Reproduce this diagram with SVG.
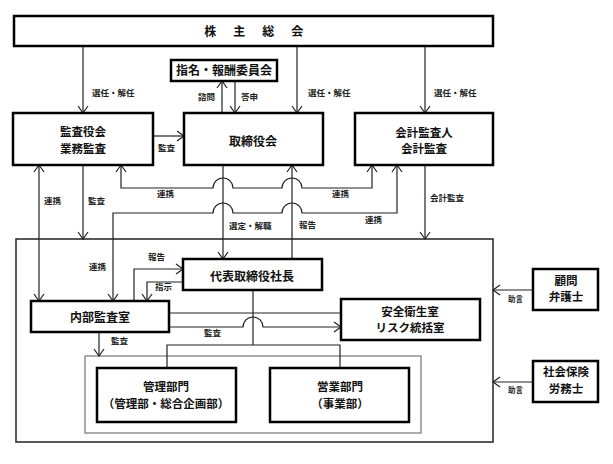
<svg xmlns="http://www.w3.org/2000/svg" width="613" height="464" viewBox="0 0 613 464">
<defs>
<marker id="ah" markerUnits="userSpaceOnUse" markerWidth="12" markerHeight="12" refX="8" refY="6" orient="auto-start-reverse">
<path d="M1,1 L8,6 L1,11" fill="none" stroke="#222" stroke-width="1.2"/>
</marker>
<style>
.box{fill:#fff;stroke:#000;stroke-width:2.5}
.frame{fill:none;stroke:#222;stroke-width:1.5}
.inner{fill:none;stroke:#777;stroke-width:1.2}
.c{fill:none;stroke:#222;stroke-width:1.2}
.a{marker-end:url(#ah)}
.b{marker-start:url(#ah);marker-end:url(#ah)}
.t{font-family:"Noto Sans CJK JP","Liberation Sans",sans-serif;font-size:12px;font-weight:700;text-anchor:middle;fill:#111}
.t2{font-size:11.5px}
.l{font-family:"Noto Sans CJK JP","Liberation Sans",sans-serif;font-size:8.5px;font-weight:700;fill:#222}
.s{font-size:7.5px}
</style>
</defs>
<rect width="613" height="464" fill="#fff"/>
<rect class="frame" x="16" y="239" width="477" height="203"/>
<rect class="inner" x="85" y="356" width="336" height="77"/>
<g id="connectors">
<path class="c a" d="M83,46 V113"/>
<path class="c a" d="M297,46 V113"/>
<path class="c a" d="M425,46 V113"/>
<path class="c a" d="M222,113 V81"/>
<path class="c a" d="M235,81 V113"/>
<path class="c a" d="M153,136 H184"/>
<path class="c b" d="M39,165 V301"/>
<path class="c a" d="M83,165 V239"/>
<path class="c b" d="M121,165 V188 H213 A10,10 0 0 1 233,188 H282 A10,10 0 0 1 302,188 H372 V165"/>
<path class="c b" d="M113,301 V213 H213 A10,10 0 0 1 233,213 H282 A10,10 0 0 1 302,213 H397 V165"/>
<path class="c a" d="M223,165 V259"/>
<path class="c a" d="M292,259 V165"/>
<path class="c a" d="M425,165 V239"/>
<path class="c a" d="M134,301 V269 H183"/>
<path class="c a" d="M183,282 H147 V301"/>
<path class="c a" d="M99,332 V356"/>
<path class="c" d="M169,313 H341"/>
<path class="c a" d="M169,327 H243 A10,10 0 0 1 263,327 H341"/>
<path class="c" d="M253,290 V345"/>
<path class="c" d="M167,368 V345 H340 V368"/>
<path class="c a" d="M533,290 H493"/>
<path class="c a" d="M533,382 H493"/>
</g>
<g id="labels">
<text class="l" x="92" y="96">選任・解任</text>
<text class="l" x="308" y="96">選任・解任</text>
<text class="l" x="434" y="96">選任・解任</text>
<text class="l" x="198" y="100">諮問</text>
<text class="l" x="241" y="100">答申</text>
<text class="l" x="158" y="151">監査</text>
<text class="l" x="44" y="204">連携</text>
<text class="l" x="88" y="204">監査</text>
<text class="l" x="157" y="197">連携</text>
<text class="l" x="332" y="197">連携</text>
<text class="l" x="365" y="223">連携</text>
<text class="l" x="229" y="229">選定・解職</text>
<text class="l" x="299" y="228">報告</text>
<text class="l" x="430" y="201">会計監査</text>
<text class="l" x="89" y="270">連携</text>
<text class="l" x="148" y="260">報告</text>
<text class="l" x="155" y="290">指示</text>
<text class="l" x="111" y="344">監査</text>
<text class="l" x="204" y="336">監査</text>
<text class="l s" x="508" y="302">助言</text>
<text class="l s" x="508" y="393">助言</text>
</g>
<g id="shareholders">
<rect class="box" x="14" y="16" width="479" height="30"/>
<text class="t" x="255" y="36" style="letter-spacing:2.5px">株　主　総　会</text>
</g>
<g id="nomination">
<rect class="box" x="171" y="60" width="106" height="21"/>
<text class="t" x="224" y="75">指名・報酬委員会</text>
</g>
<g id="auditboard">
<rect class="box" x="13" y="113" width="140" height="52"/>
<text class="t t2" x="83" y="136">監査役会<tspan x="83" dy="16.7">業務監査</tspan></text>
</g>
<g id="board">
<rect class="box" x="184" y="113" width="139" height="52"/>
<text class="t" x="253" y="146">取締役会</text>
</g>
<g id="accountant">
<rect class="box" x="355" y="113" width="138" height="52"/>
<text class="t t2" x="424" y="136.6">会計監査人<tspan x="424" dy="16.7">会計監査</tspan></text>
</g>
<g id="president">
<rect class="box" x="183" y="259" width="139" height="31"/>
<text class="t" x="252" y="281">代表取締役社長</text>
</g>
<g id="internalaudit">
<rect class="box" x="31" y="301" width="138" height="31"/>
<text class="t" x="100" y="322">内部監査室</text>
</g>
<g id="safety">
<rect class="box" x="341" y="299" width="139" height="41"/>
<text class="t t2" x="410" y="315.6">安全衛生室<tspan x="410" dy="16.7">リスク統括室</tspan></text>
</g>
<g id="admin">
<rect class="box" x="97" y="368" width="139" height="54"/>
<text class="t t2" x="166" y="391.1">管理部門<tspan x="166" dy="16.7">（管理部・総合企画部）</tspan></text>
</g>
<g id="sales">
<rect class="box" x="270" y="368" width="139" height="54"/>
<text class="t t2" x="340" y="391.1">営業部門<tspan x="340" dy="16.7">（事業部）</tspan></text>
</g>
<g id="lawyer">
<rect class="box" x="533" y="269" width="65" height="41"/>
<text class="t t2" x="566" y="284.6">顧問<tspan x="566" dy="16.7">弁護士</tspan></text>
</g>
<g id="sharoushi">
<rect class="box" x="533" y="361" width="65" height="41"/>
<text class="t t2" x="566" y="376.1">社会保険<tspan x="566" dy="16.7">労務士</tspan></text>
</g>
</svg>
